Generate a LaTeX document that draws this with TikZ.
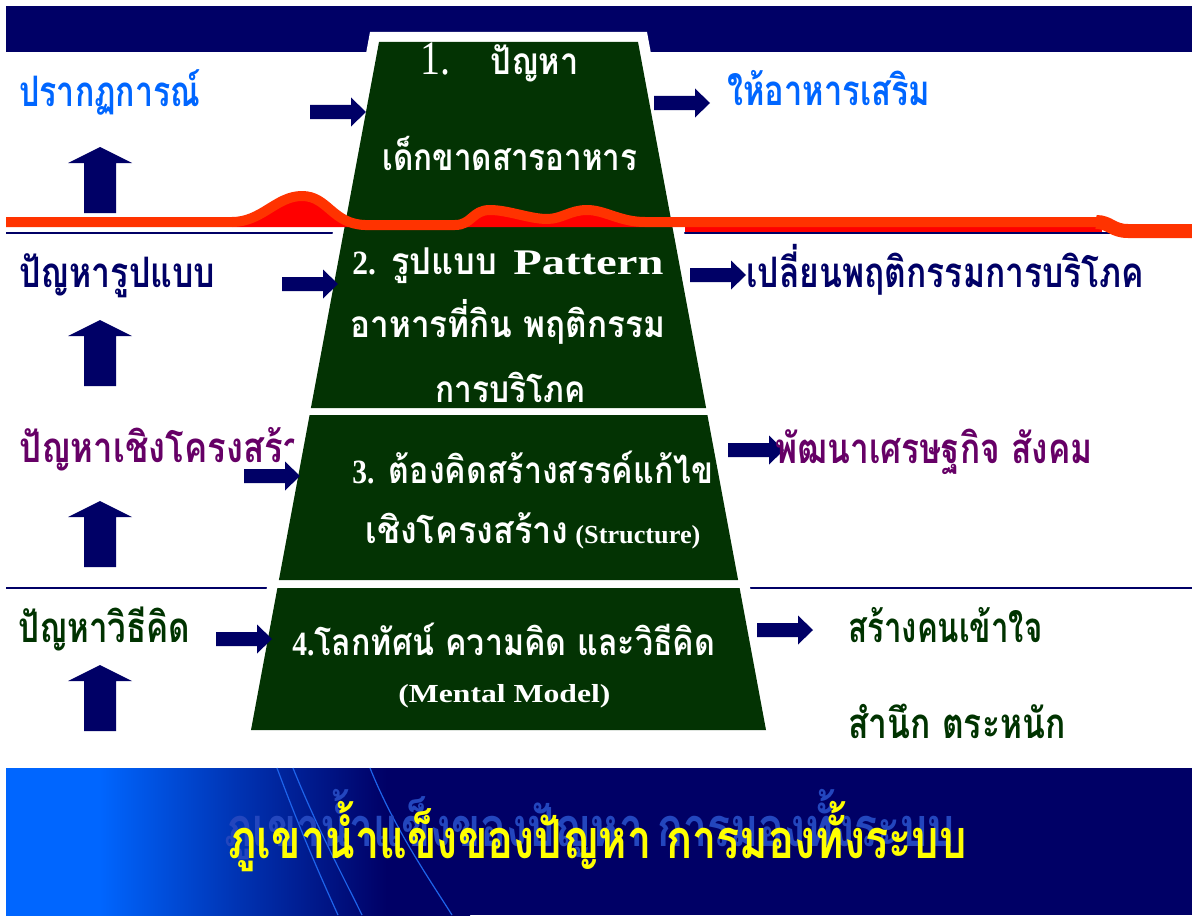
\documentclass[tikz,border=0pt]{standalone}
\usepackage{fontspec}
\usepackage{graphicx}
\newfontfamily\thf[Script=Thai]{Loma}
\newfontfamily\serf{Liberation Serif}
\definecolor{cNavy}{RGB}{0,0,102}
\definecolor{cBlue}{RGB}{0,102,255}
\definecolor{cPurple}{RGB}{102,0,102}
\definecolor{cGreenT}{RGB}{0,51,0}
\definecolor{cGreen}{RGB}{3,51,3}
\definecolor{cOrange}{RGB}{255,51,0}
\definecolor{cRed}{RGB}{255,0,0}
\definecolor{cYellow}{RGB}{255,255,0}
\definecolor{cLight}{RGB}{0,102,255}
\definecolor{cGhost}{RGB}{35,70,190}
\definecolor{cDeco}{RGB}{30,100,235}
\pgfdeclarehorizontalshading{bandshade}{100bp}{color(0bp)=(cLight); color(35bp)=(cLight); color(50bp)=(cLight!50!cNavy); color(66bp)=(cNavy); color(100bp)=(cNavy)}
\newlength\fitlen
\newcommand\fitw[2]{\settowidth{\fitlen}{#2}\pgfmathsetmacro\fitr{#1*0.5/\fitlen}\scalebox{\fitr}[1]{#2}}
\newcommand\dig[1]{{\serf\bfseries\fontsize{17pt}{17pt}\selectfont #1}}
\tikzset{
  lbl/.style={inner sep=0pt, anchor=base west, font=\thf\bfseries\fontsize{21pt}{21pt}\selectfont},
  trap/.style={inner sep=0pt, anchor=base west, text=white, font=\thf\bfseries\fontsize{18.5pt}{18.5pt}\selectfont},
  num/.style={inner sep=0pt, anchor=base west, text=white, font=\serf\fontsize{24pt}{24pt}\selectfont},
  pat/.style={inner sep=0pt, anchor=base west, text=white, font=\serf\bfseries\fontsize{18pt}{18pt}\selectfont},
  ser/.style={inner sep=0pt, anchor=base west, text=white, font=\serf\bfseries\fontsize{13pt}{13pt}\selectfont},
  ttl/.style={inner sep=0pt, anchor=base west, font=\thf\bfseries\fontsize{27pt}{27pt}\selectfont},
  section/.style={fill=cGreen},
  sepline/.style={draw=cNavy, line width=1pt},
  rarr/.pic={\fill[cNavy] (0,-7) -- (41,-7) -- (41,-14.5) -- (56,0) -- (41,14.5) -- (41,7) -- (0,7) -- cycle;},
  uarr/.pic={\fill[cNavy] (-16,0) -- (-16,-50) -- (-32,-50) -- (0,-66) -- (32,-50) -- (16,-50) -- (16,0) -- cycle;}
}
\begin{document}
\begin{tikzpicture}[x=0.5pt,y=-0.5pt]
\useasboundingbox (0,0) rectangle (1192,915);
\fill[white] (0,0) rectangle (1192,915);
% top band
\fill[cNavy] (6,6) rectangle (1192,52);
% bottom band
\fill[cNavy] (6,768) rectangle (1192,915);
\shade[shading=bandshade] (6,768) rectangle (470,915);
\draw[cDeco, line width=0.6pt] (277,768) .. controls (300,830) and (322,880) .. (338,915);
\draw[cDeco, line width=0.6pt] (293,768) .. controls (318,830) and (345,880) .. (362,915);
\draw[cDeco, line width=0.6pt] (370,768) .. controls (395,830) and (430,880) .. (452,915);
% separator lines
\draw[sepline] (6,233) -- (1192,233);
\draw[sepline] (6,588) -- (1192,588);
% left labels
\node[lbl,text=cBlue] (p1) at (19,106) {\fitw{181}{ปรากฏการณ์}};
\node[lbl,text=cNavy] (p2) at (19,287) {\fitw{196}{ปัญหารูปแบบ}};
\node[lbl,text=cPurple] (p3) at (19,462) {\fitw{300}{ปัญหาเชิงโครงสร้าง}};
\node[lbl,text=cGreenT] (p4) at (18,642) {\fitw{172}{ปัญหาวิธีคิด}};
% iceberg
\fill[white] (370,32) -- (647,32) -- (778,738) -- (239,738) -- cycle;
\path[section] (379,42) coordinate (a1) -- (638,42) coordinate (a2) -- (706.1,408) coordinate (a3) -- (310.9,408) coordinate (a4) -- cycle;
\path[section] (309.6,415) coordinate (b1) -- (707.4,415) coordinate (b2) -- (738.1,580) coordinate (b3) -- (278.9,580) coordinate (b4) -- cycle;
\path[section] (277.4,588) coordinate (c1) -- (739.6,588) coordinate (c2) -- (766,730) coordinate (c3) -- (251,730) coordinate (c4) -- cycle;
% water line
\fill[cRed] (232,222) .. controls (262,222) and (276,196) .. (302,196) .. controls (328,196) and (332,224) .. (365,225) -- (455,225) .. controls (472,225) and (472,210) .. (490,210) .. controls (508,210) and (530,219) .. (547,219) .. controls (562,219) and (570,210) .. (587,210) .. controls (605,210) and (620,222) .. (645,222) -- (645,227) -- (232,227) -- cycle;
\fill[cRed] (685,225) rectangle (1102,232);
\draw[cOrange, line width=5pt, line join=round] (6,222) -- (232,222) .. controls (262,222) and (276,196) .. (302,196) .. controls (328,196) and (332,224) .. (365,225) -- (455,225) .. controls (472,225) and (472,210) .. (490,210) .. controls (508,210) and (530,219) .. (547,219) .. controls (562,219) and (570,210) .. (587,210) .. controls (605,210) and (620,222) .. (645,222) -- (1098,222);
\draw[cOrange, line width=7pt] (1096,222) .. controls (1110,222) and (1112,231) .. (1128,231) -- (1192,231);
% arrows
\pic at (100,213) {uarr};
\pic at (100,386) {uarr};
\pic at (100,567) {uarr};
\pic at (100,731) {uarr};
\pic at (310,112) {rarr};
\pic at (282,284) {rarr};
\pic at (244,476) {rarr};
\pic at (216,639) {rarr};
\pic at (654,103) {rarr};
\pic at (690,275) {rarr};
\pic at (728,450) {rarr};
\pic at (757,630) {rarr};
% right labels
\node[lbl,text=cBlue] (s1) at (727,105) {\fitw{203}{ให้อาหารเสริม}};
\node[lbl,text=cNavy] (s2) at (746,287) {\fitw{398}{เปลี่ยนพฤติกรรมการบริโภค}};
\node[lbl,text=cPurple] (s3) at (775,463) {\fitw{317}{พัฒนาเศรษฐกิจ สังคม}};
\node[lbl,text=cGreenT] (s4) at (848,642) {\fitw{194}{สร้างคนเข้าใจ}};
\node[lbl,text=cGreenT] (s5) at (848,738) {\fitw{217}{สำนึก ตระหนัก}};
% iceberg texts
\node[num] (n1) at (420,75) {\fitw{30}{1.}};
\node[trap] (q1) at (490,75) {\fitw{88}{ปัญหา}};
\node[trap] (q1b) at (382,170) {\fitw{255}{เด็กขาดสารอาหาร}};
\node[trap] (q2) at (352,274) {\fitw{145}{\dig{2.} รูปแบบ}};
\node[pat] (q2p) at (513,274) {\fitw{150}{Pattern}};
\node[trap] (q2b) at (350,337) {\fitw{315}{อาหารที่กิน พฤติกรรม}};
\node[trap] (q2c) at (435,402) {\fitw{150}{การบริโภค}};
\node[trap] (q3) at (352,483) {\fitw{361}{\dig{3.} ต้องคิดสร้างสรรค์แก้ไข}};
\node[trap] (q3b) at (365,543) {\fitw{203}{เชิงโครงสร้าง}};
\node[ser] (q3s) at (575,543) {\fitw{125}{(Structure)}};
\node[trap] (q4) at (292,655) {\fitw{423}{\dig{4.}โลกทัศน์ ความคิด และวิธีคิด}};
\node[ser] (q4b) at (398,702) {\fitw{212}{(Mental Model)}};
% title
\node[ttl,text=cGhost] (g) at (224,846) {\fitw{730}{ภูเขาน้ำแข็งของปัญหา การมองทั้งระบบ}};
\node[ttl,text=cYellow] (t) at (228,858) {\fitw{738}{ภูเขาน้ำแข็งของปัญหา การมองทั้งระบบ}};
\end{tikzpicture}
\end{document}
